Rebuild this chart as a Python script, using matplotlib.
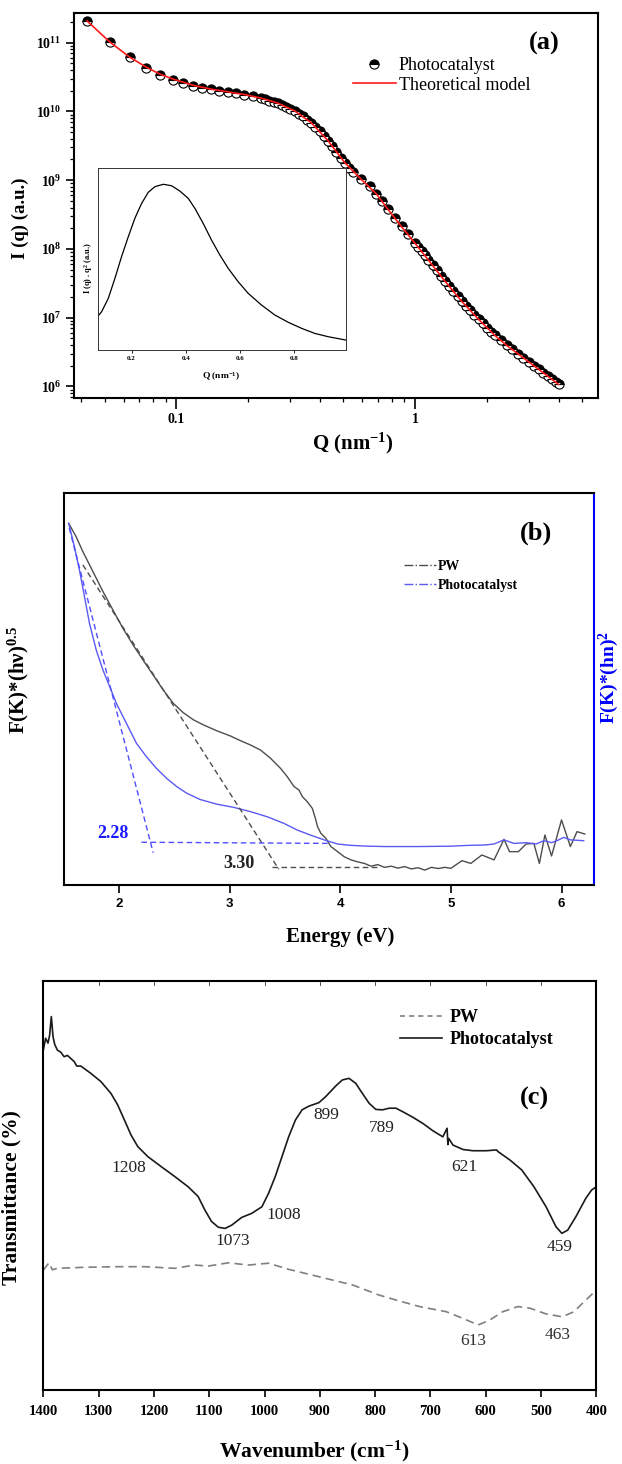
import numpy as np
import matplotlib
matplotlib.use('Agg')
import matplotlib.pyplot as plt
from matplotlib.lines import Line2D
from matplotlib.ticker import FixedLocator, NullFormatter, FuncFormatter, LogLocator

plt.rcParams['font.family'] = ['Liberation Serif', 'DejaVu Serif']
plt.rcParams['mathtext.fontset'] = 'custom'
plt.rcParams['mathtext.rm'] = 'Liberation Serif'
plt.rcParams['mathtext.bf'] = 'Liberation Serif:bold'
plt.rcParams['mathtext.it'] = 'Liberation Serif:italic'

# ---------------- data: panel (a) SAXS ----------------
q_data = [0.0422, 0.0526, 0.0636, 0.0743, 0.0851, 0.0968, 0.1070, 0.1175, 0.1286, 0.1395,
          0.1512, 0.1639, 0.1777, 0.1926, 0.2088, 0.2263, 0.2357, 0.2454, 0.2556, 0.2661,
          0.2770, 0.2884, 0.3003, 0.3127, 0.3256, 0.3390, 0.3529, 0.3675, 0.3826, 0.3984,
          0.4148, 0.4319, 0.4497, 0.4683, 0.4875, 0.5076, 0.5284, 0.5503, 0.5965, 0.6467,
          0.6897, 0.7288, 0.7724, 0.8237, 0.8789, 0.9374, 1.000, 1.033, 1.067, 1.102,
          1.138, 1.185, 1.234, 1.284, 1.337, 1.392, 1.450, 1.510, 1.572, 1.637,
          1.704, 1.774, 1.847, 1.923, 2.002, 2.085, 2.171, 2.297, 2.431, 2.55,
          2.70, 2.85, 3.00, 3.15, 3.30, 3.45, 3.60, 3.75, 3.90, 4.00]
i_data = [2.07e11, 1.02e11, 6.18e10, 4.32e10, 3.42e10, 2.90e10, 2.59e10, 2.37e10, 2.21e10, 2.09e10,
          2.00e10, 1.92e10, 1.83e10, 1.75e10, 1.66e10, 1.55e10, 1.49e10, 1.43e10, 1.37e10, 1.31e10,
          1.23e10, 1.16e10, 1.08e10, 1.01e10, 9.27e9, 8.48e9, 7.59e9, 6.78e9, 5.93e9, 5.19e9,
          4.39e9, 3.71e9, 3.10e9, 2.57e9, 2.12e9, 1.77e9, 1.52e9, 1.31e9, 1.05e9, 8.22e8,
          6.36e8, 4.92e8, 3.76e8, 2.81e8, 2.13e8, 1.63e8, 1.23e8, 1.08e8, 9.31e7, 8.05e7,
          6.97e7, 5.82e7, 4.88e7, 4.07e7, 3.41e7, 2.88e7, 2.44e7, 2.06e7, 1.74e7, 1.49e7,
          1.28e7, 1.10e7, 9.55e6, 8.26e6, 7.13e6, 6.24e6, 5.52e6, 4.67e6, 3.95e6, 3.48e6,
          3.00e6, 2.61e6, 2.28e6, 2.01e6, 1.78e6, 1.58e6, 1.42e6, 1.28e6, 1.15e6, 1.08e6]
q_model = [0.0422, 0.0526, 0.0636, 0.0743, 0.0851, 0.0968, 0.1175, 0.1395, 0.1639, 0.1926,
           0.2263, 0.2661, 0.3127, 0.3675, 0.4319, 0.5076, 0.5965, 0.6897, 0.7724, 0.8789,
           1.000, 1.138, 1.337, 1.572, 1.847, 2.171, 2.431, 2.85, 3.30, 3.75, 4.00]
i_model = [2.07e11, 1.02e11, 6.18e10, 4.45e10, 3.50e10, 2.95e10, 2.40e10, 2.11e10, 1.93e10, 1.76e10,
           1.56e10, 1.32e10, 1.02e10, 6.85e9, 3.75e9, 1.80e9, 1.02e9, 6.30e8, 3.72e8, 2.10e8,
           1.21e8, 6.90e7, 3.38e7, 1.72e7, 9.45e6, 5.45e6, 3.92e6, 2.60e6, 1.77e6, 1.27e6, 1.07e6]

# inset: I(q)*q^2 (normalised units)
q_inset = [0.0746, 0.0894, 0.114, 0.1385, 0.163, 0.188, 0.212, 0.237, 0.2615, 0.286, 0.317,
           0.3475, 0.378, 0.409, 0.4335, 0.464, 0.495, 0.5257, 0.5565, 0.593, 0.630, 0.679,
           0.7285, 0.778, 0.827, 0.876, 0.925, 0.989]
v_inset = [0.183, 0.210, 0.283, 0.393, 0.512, 0.622, 0.722, 0.804, 0.865, 0.896, 0.909,
           0.901, 0.872, 0.832, 0.777, 0.695, 0.603, 0.521, 0.448, 0.375, 0.311, 0.247,
           0.192, 0.152, 0.119, 0.091, 0.073, 0.055]

# ---------------- data: panel (b) Tauc plots ----------------
e_pw = [1.545, 1.612, 1.673, 1.764, 1.855, 1.945, 2.036, 2.127, 2.218, 2.309, 2.400, 2.491,
        2.582, 2.673, 2.764, 2.885, 3.006, 3.097, 3.188, 3.279, 3.370, 3.461, 3.521, 3.582,
        3.627, 3.658, 3.703, 3.748, 3.779, 3.794, 3.824, 3.870, 3.915, 3.976, 4.036, 4.097,
        4.158, 4.218, 4.279, 4.339, 4.400, 4.461, 4.521, 4.582, 4.642, 4.703, 4.764, 4.824,
        4.885, 4.945, 5.00, 5.10, 5.18, 5.28, 5.39, 5.48, 5.53, 5.61, 5.68, 5.75, 5.80,
        5.85, 5.91, 6.00, 6.08, 6.14, 6.21]
f_pw = [0.922, 0.888, 0.850, 0.799, 0.748, 0.701, 0.654, 0.612, 0.573, 0.535, 0.497, 0.463,
        0.439, 0.421, 0.408, 0.393, 0.380, 0.368, 0.357, 0.344, 0.323, 0.297, 0.276, 0.251,
        0.242, 0.225, 0.212, 0.195, 0.166, 0.149, 0.132, 0.119, 0.098, 0.085, 0.072, 0.064,
        0.059, 0.055, 0.048, 0.052, 0.045, 0.048, 0.043, 0.047, 0.041, 0.044, 0.038, 0.045,
        0.042, 0.045, 0.0425, 0.062, 0.055, 0.0765, 0.064, 0.1165, 0.085, 0.085, 0.1045, 0.106, 0.055,
        0.1275, 0.074, 0.166, 0.098, 0.136, 0.130]
e_pc = [1.545, 1.597, 1.642, 1.688, 1.733, 1.794, 1.855, 1.915, 1.976, 2.067, 2.158, 2.248,
        2.339, 2.430, 2.521, 2.612, 2.733, 2.885, 3.036, 3.188, 3.339, 3.491, 3.612, 3.733,
        3.855, 3.976, 4.097, 4.248, 4.400, 4.703, 5.006, 5.158, 5.309, 5.39, 5.48, 5.57,
        5.68, 5.77, 5.84, 5.91, 5.96, 6.02, 6.08, 6.20]
f_pc = [0.922, 0.862, 0.803, 0.735, 0.667, 0.599, 0.548, 0.506, 0.463, 0.412, 0.361, 0.327,
        0.297, 0.272, 0.251, 0.234, 0.218, 0.206, 0.198, 0.187, 0.174, 0.157, 0.140, 0.127,
        0.115, 0.1045, 0.101, 0.099, 0.098, 0.098, 0.099, 0.101, 0.102, 0.1045, 0.115, 0.106,
        0.108, 0.1045, 0.113, 0.108, 0.113, 0.1215, 0.115, 0.113]
# extrapolation lines (band gaps)
pw_tan_e = [1.673, 3.445]
pw_tan_f = [0.816, 0.040]
pw_base_e = [3.38, 4.35]
pw_base_f = [0.047, 0.047]
pc_tan_e = [1.55, 2.309]
pc_tan_f = [0.91, 0.082]
pc_base_e = [2.203, 3.915]
pc_base_f = [0.109, 0.106]

# ---------------- data: panel (c) FTIR ----------------
wn_pc = [1400, 1395.8, 1391.5, 1388.5, 1385.5, 1382.4, 1379.4, 1374.5, 1368.5, 1362.4, 1356.3,
         1344.2, 1339.4, 1332.1, 1313.9, 1295.8, 1277.6, 1265.5, 1253.3, 1241.2, 1229.1,
         1210.9, 1186.7, 1162.4, 1138.2, 1120.0, 1107.9, 1095.8, 1083.6, 1071.5, 1059.4,
         1041.2, 1023.0, 1004.8, 992.7, 980.6, 968.5, 956.4, 944.2, 932.1, 920.0, 901.8,
         889.7, 871.5, 859.4, 847.3, 835.2, 823.0, 810.9, 798.8, 786.7, 774.5, 762.4, 750.3,
         732.1, 714.0, 695.8, 677.6, 670.0, 668.5, 667.0, 659.4, 641.2, 623.0, 598.8, 580.6,
         578, 556, 535, 513, 491, 473, 462.4, 451.8, 437, 419, 408.6, 400]
t_pc = [0.831, 0.860, 0.848, 0.868, 0.913, 0.864, 0.845, 0.831, 0.826, 0.815, 0.818,
        0.803, 0.792, 0.792, 0.774, 0.754, 0.725, 0.697, 0.660, 0.623, 0.595,
        0.5705, 0.546, 0.522, 0.497, 0.473, 0.440, 0.412, 0.398, 0.395, 0.403,
        0.422, 0.432, 0.448, 0.481, 0.522, 0.5705, 0.619, 0.660, 0.685, 0.694, 0.7025,
        0.717, 0.743, 0.758, 0.762, 0.750, 0.725, 0.701, 0.686, 0.685, 0.689, 0.689, 0.6805,
        0.667, 0.652, 0.634, 0.619, 0.640, 0.600, 0.615, 0.599, 0.588, 0.585, 0.585, 0.587,
        0.583, 0.562, 0.538, 0.497, 0.448, 0.399, 0.383, 0.391, 0.424, 0.469, 0.489, 0.497]
wn_pw = [1400, 1389.7, 1383.6, 1374.5, 1326.1, 1265.5, 1217.0, 1162.4, 1126.1, 1101.8, 1065.5,
         1029.1, 992.7, 956.4, 901.8, 841.2, 792.7, 762.4, 720.0, 671.5, 641.2, 613.9,
         592.7, 570, 542, 520, 491, 462, 441, 419, 400]
t_pw = [0.293, 0.311, 0.294, 0.2975, 0.300, 0.3015, 0.3015, 0.2975, 0.3055, 0.303, 0.311,
        0.3055, 0.310, 0.295, 0.277, 0.257, 0.232, 0.220, 0.204, 0.1915, 0.175, 0.159,
        0.171, 0.191, 0.204, 0.200, 0.186, 0.179, 0.191, 0.220, 0.2445]
ir_peaks_pc = ['1208', '1073', '1008', '899', '789', '621', '459']
ir_peaks_pc_xy = [(1244.8, 0.542), (1057.1, 0.365), (966.1, 0.427), (887.8, 0.672),
                  (788.3, 0.640), (639.4, 0.546), (466.2, 0.350)]
ir_peaks_pw = ['613', '463']
ir_peaks_pw_xy = [(622.6, 0.121), (469.8, 0.134)]

W, H = 622, 1464
fig = plt.figure(figsize=(W / 100, H / 100), dpi=100)


def frac(l, t, r, b):
    return [l / W, 1 - b / H, (r - l) / W, (b - t) / H]

# ======================= (a) =======================
axa = fig.add_axes(frac(73.7, 13, 597.6, 398))
axa.set_xscale('log')
axa.set_yscale('log')
axa.plot(q_data, i_data, ls='none', marker='o', ms=6.6, fillstyle='top',
         markerfacecolor='black', markerfacecoloralt='white', markeredgecolor='black',
         markeredgewidth=0.8, zorder=2)
axa.plot(q_model, i_model, color='#ff1a1a', lw=1.2, zorder=3)
axa.set_xlim(0.0371, 5.83)
axa.set_ylim(6.78e5, 2.7e11)
axa.xaxis.set_major_locator(FixedLocator([0.1, 1]))
axa.xaxis.set_minor_locator(LogLocator(base=10, subs=np.arange(2, 10), numticks=30))
axa.xaxis.set_minor_formatter(NullFormatter())
axa.set_xticklabels(['0.1', '1'], fontweight='bold', fontsize=10)
axa.yaxis.set_major_locator(FixedLocator([1e6, 1e7, 1e8, 1e9, 1e10, 1e11]))
axa.yaxis.set_minor_locator(LogLocator(base=10, subs=np.arange(2, 10), numticks=30))
axa.yaxis.set_minor_formatter(NullFormatter())
axa.yaxis.set_major_formatter(FuncFormatter(lambda v, p: r'$\mathbf{10^{%d}}$' % round(np.log10(v))))
axa.tick_params(axis='both', which='major', direction='out', length=6, width=1.2, labelsize=10)
axa.tick_params(axis='both', which='minor', direction='out', length=3, width=0.9)
axa.tick_params(axis='x', which='major', length=8, pad=3)
axa.tick_params(axis='y', which='major', pad=3)
for s in axa.spines.values():
    s.set_linewidth(1.5)
axa.set_xlabel(r'Q (nm$^{\mathbf{-1}}$)', fontsize=15, fontweight='bold', va='center')
axa.xaxis.set_label_coords((353 - 73.7) / 523.9, (398 - 443) / 385)
axa.set_ylabel('I (q) (a.u.)', fontsize=13.5, fontweight='bold', va='center')
axa.yaxis.set_label_coords((20 - 73.7) / 523.9, (398 - 218) / 385)
axa.text((543.8 - 73.7) / 523.9, (398 - 43.3) / 385, '(a)', transform=axa.transAxes,
         fontsize=19, fontweight='bold', ha='center', va='center')
ha = [Line2D([], [], ls='none', marker='o', ms=6.6, fillstyle='top', markerfacecolor='black',
             markerfacecoloralt='white', markeredgecolor='black', markeredgewidth=0.8),
      Line2D([], [], color='#ff1a1a', lw=1.2)]
axa.legend(ha, ['Photocatalyst', 'Theoretical model'], loc='upper left',
           bbox_to_anchor=((352.6 - 73.7) / 523.9, (398 - 57) / 385), frameon=False,
           fontsize=13, handlelength=2.4, handletextpad=0.15, labelspacing=0.15,
           borderpad=0, borderaxespad=0)

# inset
axi = fig.add_axes(frac(97.7, 167.7, 345.7, 350))
axi.plot(q_inset, v_inset, color='black', lw=0.9)
axi.set_xlim(0.075, 0.99)
axi.set_ylim(0, 1)
axi.set_xticks([0.2, 0.4, 0.6, 0.8])
axi.set_xticklabels(['0.2', '0.4', '0.6', '0.8'], fontsize=5, fontweight='bold')
axi.set_yticks([])
axi.tick_params(axis='x', direction='out', length=2.5, width=0.6, pad=1.5)
for s in axi.spines.values():
    s.set_linewidth(0.7)
    s.set_color('#333333')
axi.set_xlabel(r'Q (nm$^{\mathbf{-1}}$)', fontsize=6.8, fontweight='bold', va='center')
axi.xaxis.set_label_coords((221 - 97.7) / 248, (350 - 377) / 182.3)
axi.set_ylabel(r'I (q) . q$^{\mathbf{2}}$ (a.u.)', fontsize=6, fontweight='bold', va='center')
axi.yaxis.set_label_coords((88.3 - 97.7) / 248, (350 - 268) / 182.3)

# ======================= (b) =======================
axb = fig.add_axes(frac(63.7, 492.7, 593.6, 885))
c_pw = '#4d4d4d'
c_pc = '#5a5af2'
axb.plot(e_pw, f_pw, color=c_pw, lw=1.0)
axb.plot(e_pc, f_pc, color=c_pc, lw=1.0)
axb.plot(pw_tan_e, pw_tan_f, color=c_pw, lw=1.0, dashes=(4, 2.5))
axb.plot(pw_base_e, pw_base_f, color=c_pw, lw=1.0, dashes=(4, 2.5))
axb.plot(pc_tan_e, pc_tan_f, color='#4f4fff', lw=1.0, dashes=(4, 2.5))
axb.plot(pc_base_e, pc_base_f, color='#4f4fff', lw=1.0, dashes=(4, 2.5))
axb.set_xlim(1.5, 6.29)
axb.set_ylim(0, 1)
axb.set_xticks([2, 3, 4, 5, 6])
axb.set_xticklabels(['2', '3', '4', '5', '6'], fontsize=9.5, fontweight='bold',
                    fontfamily='Liberation Sans')
axb.set_yticks([])
axb.tick_params(axis='x', direction='out', length=6, width=1.2, pad=3.5)
for k, s in axb.spines.items():
    s.set_linewidth(1.5)
axb.spines['right'].set_color('#0000ff')
axb.set_xlabel('Energy (eV)', fontsize=15, fontweight='bold', va='center')
axb.xaxis.set_label_coords((340.6 - 63.7) / 529.9, (885 - 936.7) / 392.3)
axb.set_ylabel(r'F(K)*(hν)$^{\mathbf{0.5}}$', fontsize=15, fontweight='bold', va='center')
axb.yaxis.set_label_coords((18 - 63.7) / 529.9, (885 - 680) / 392.3)
axb.text((609 - 63.7) / 529.9, (885 - 678) / 392.3, r'F(K)*(hn)$^{\mathbf{2}}$', transform=axb.transAxes,
         rotation=90, fontsize=14, fontweight='bold', color='#0000ff', ha='center', va='center',
         clip_on=False)
axb.text((536 - 63.7) / 529.9, (885 - 533) / 392.3, '(b)', transform=axb.transAxes,
         fontsize=19, fontweight='bold', ha='center', va='center')
axb.text(1.945, 0.132, '2.28', color='#1a1aff', fontsize=13, fontweight='bold', ha='center', va='center')
axb.text(3.082, 0.055, '3.30', color='#222222', fontsize=13, fontweight='bold', ha='center', va='center')
hb = [Line2D([], [], color=c_pw, lw=1.0, ls='-.'), Line2D([], [], color=c_pc, lw=1.0, ls='-.')]
axb.legend(hb, ['PW', 'Photocatalyst'], loc='upper left',
           bbox_to_anchor=((404 - 63.7) / 529.9, (885 - 560) / 392.3), frameon=False,
           prop={'size': 10, 'weight': 'bold'}, handlelength=2.3, handletextpad=0.15,
           labelspacing=0.4, borderpad=0, borderaxespad=0)

# ======================= (c) =======================
axc = fig.add_axes(frac(43.3, 981, 596.4, 1390))
axc.plot(wn_pw, t_pw, color='#808080', lw=1.2, dashes=(5, 3))
axc.plot(wn_pc, t_pc, color='#1a1a1a', lw=1.2)
axc.set_xlim(1400, 400)
axc.set_ylim(0, 1)
axc.set_xticks(np.arange(1400, 399, -100))
axc.set_xticklabels([str(v) for v in range(1400, 399, -100)], fontsize=10.5, fontweight='bold')
axc.set_yticks([])
axc.tick_params(axis='x', which='major', direction='out', length=5, width=1.2, pad=6,
                top=False)
for x in np.arange(1300, 400, -100):
    axc.plot([x, x], [1.0, 0.99], color='#555555', lw=0.7, clip_on=False)
for s in axc.spines.values():
    s.set_linewidth(1.5)
axc.set_xlabel(r'Wavenumber (cm$^{\mathbf{-1}}$)', fontsize=15.5, fontweight='bold', va='center')
axc.xaxis.set_label_coords((314.7 - 43.3) / 553.1, (1390 - 1451.7) / 409)
axc.set_ylabel('Transmittance (%)', fontsize=15.5, fontweight='bold', va='center')
axc.yaxis.set_label_coords((11 - 43.3) / 553.1, (1390 - 1198) / 409)
axc.text((534 - 43.3) / 553.1, (1390 - 1098) / 409, '(c)', transform=axc.transAxes,
         fontsize=19, fontweight='bold', ha='center', va='center')
for lab, (x, y) in zip(ir_peaks_pc, ir_peaks_pc_xy):
    axc.text(x, y, lab, fontsize=12.5, color='#222222', ha='center', va='center')
for lab, (x, y) in zip(ir_peaks_pw, ir_peaks_pw_xy):
    axc.text(x, y, lab, fontsize=12.5, color='#333333', ha='center', va='center')
hc = [Line2D([], [], color='#808080', lw=1.2, dashes=(3, 2.5)), Line2D([], [], color='#1a1a1a', lw=1.2)]
axc.legend(hc, ['PW', 'Photocatalyst'], loc='upper left',
           bbox_to_anchor=((400 - 43.3) / 553.1, (1390 - 1009) / 409), frameon=False,
           prop={'size': 13, 'weight': 'bold'}, handlelength=2.3, handletextpad=0.45,
           labelspacing=0.3, borderpad=0, borderaxespad=0)

fig.savefig('out.png', dpi=100)
